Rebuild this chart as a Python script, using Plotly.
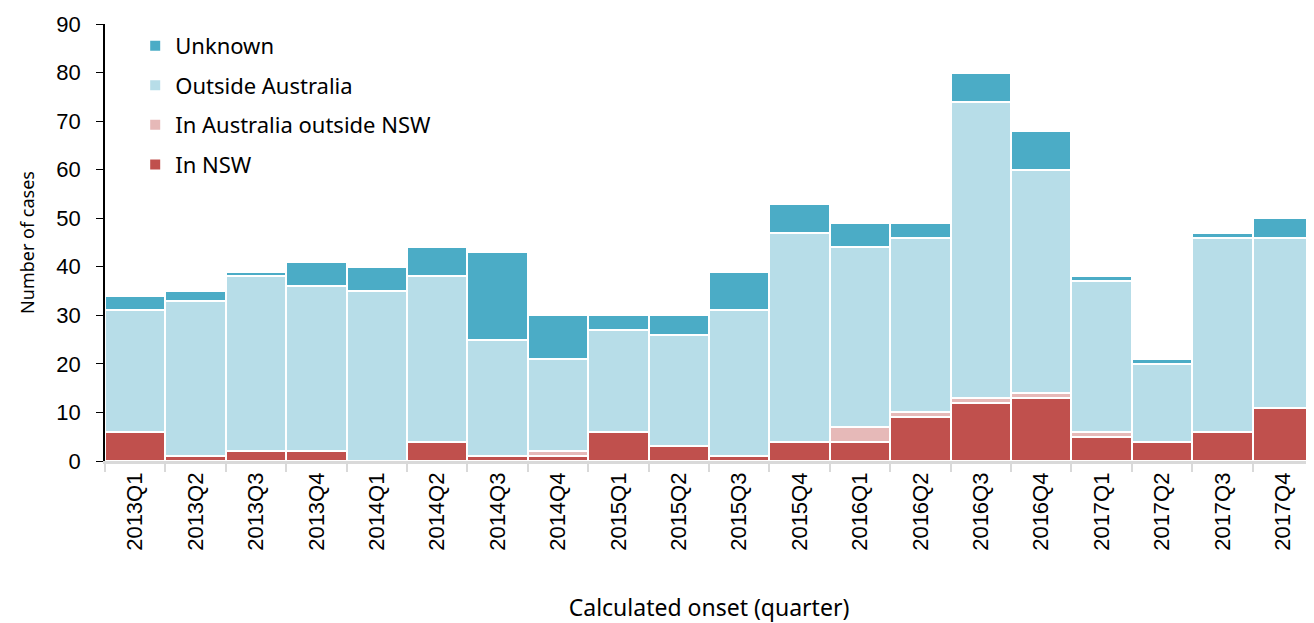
import plotly.graph_objects as go

quarters = ["2013Q1","2013Q2","2013Q3","2013Q4","2014Q1","2014Q2","2014Q3","2014Q4",
            "2015Q1","2015Q2","2015Q3","2015Q4","2016Q1","2016Q2","2016Q3","2016Q4",
            "2017Q1","2017Q2","2017Q3","2017Q4"]
in_nsw =          [6, 1, 2, 2, 0, 4, 1, 1, 6, 3, 1, 4, 4, 9, 12, 13, 5, 4, 6, 11]
in_aus_out_nsw =  [0, 0, 0, 0, 0, 0, 0, 1, 0, 0, 0, 0, 3, 1, 1, 1, 1, 0, 0, 0]
outside_aus =     [25, 32, 36, 34, 35, 34, 24, 19, 21, 23, 30, 43, 37, 36, 61, 46, 31, 16, 40, 35]
unknown =         [3, 2, 1, 5, 5, 6, 18, 9, 3, 4, 8, 6, 5, 3, 6, 8, 1, 1, 1, 4]

series = [
    ("In NSW", in_nsw, "#C0504D", 4),
    ("In Australia outside NSW", in_aus_out_nsw, "#E6B9B8", 3),
    ("Outside Australia", outside_aus, "#B7DDE8", 2),
    ("Unknown", unknown, "#4BACC6", 1),
]

fig = go.Figure()
for name, vals, col, rank in series:
    fig.add_trace(go.Bar(
        x=quarters, y=vals, name=name, legendgroup=name, legendrank=rank,
        marker=dict(color=col, line=dict(color="white", width=2)),
    ))

font = "Noto Sans, Tahoma, Verdana, sans-serif"
tickfont = "Liberation Sans, Arial, sans-serif"
fig.update_layout(
    barmode="stack", bargap=0,
    width=1306, height=615,
    margin=dict(l=97, r=1, t=16, b=162),
    plot_bgcolor="white", paper_bgcolor="white",
    font=dict(family=font, size=21, color="black"),
    legend=dict(x=0.025, y=0.998, xanchor="left", yanchor="top",
                traceorder="grouped", tracegroupgap=8,
                font=dict(size=22, family=font), bgcolor="rgba(0,0,0,0)", itemwidth=30),
    xaxis=dict(
        type="category", tickangle=-90, showline=True, linecolor="#d9d9d9", linewidth=2.5,
        ticks="outside", tickson="boundaries", ticklen=8, tickcolor="#d9d9d9", tickwidth=2,
        title=dict(text="Calculated onset (quarter)", standoff=52, font=dict(size=23, family=font)),
        tickfont=dict(size=22, family=tickfont), automargin=False,
    ),
    yaxis=dict(
        range=[0, 90], dtick=10, showline=True, linecolor="black", linewidth=1.5,
        ticks="outside", ticklen=7, tickcolor="black", showgrid=False, zeroline=False,
        ticklabelstandoff=11,
        title=dict(text="Number of cases", font=dict(size=18, family=font), standoff=17),
        tickfont=dict(size=22, family=tickfont), automargin=False,
    ),
)

fig.write_html("out.html")
